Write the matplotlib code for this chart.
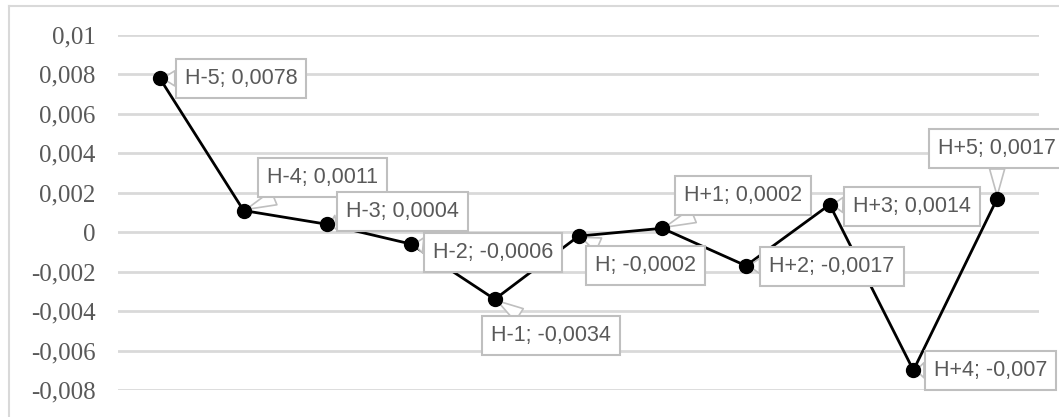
import matplotlib.pyplot as plt
from matplotlib.lines import Line2D
from matplotlib.ticker import FuncFormatter

# data
categories = ["H-5", "H-4", "H-3", "H-2", "H-1", "H", "H+1", "H+2", "H+3", "H+4", "H+5"]
values     = [0.0078, 0.0011, 0.0004, -0.0006, -0.0034, -0.0002, 0.0002, -0.0017, 0.0014, -0.007, 0.0017]
value_text = ["0,0078", "0,0011", "0,0004", "-0,0006", "-0,0034", "-0,0002", "0,0002", "-0,0017", "0,0014", "-0,007", "0,0017"]
y_ticks    = [-0.008, -0.006, -0.004, -0.002, 0.0, 0.002, 0.004, 0.006, 0.008, 0.01]

# callout offsets (pixels, box centre relative to point)
label_offsets = [(81, 0), (79, 33), (75, 13), (82, -8), (56, -36), (67, -29),
                 (81, 33), (86, -1), (82, -2), (77, 0), (0, 50)]

W, H = 1059, 417
fig = plt.figure(figsize=(W / 100, H / 100), dpi=100)
fig.patch.set_facecolor("white")

# outer chart border (partly cropped on right/bottom)
border = "#D9D9D9"
fig.add_artist(Line2D([9 / W, 9 / W], [0, 1 - 6 / H], color=border, lw=1.5))
fig.add_artist(Line2D([9 / W, 1], [1 - 6 / H, 1 - 6 / H], color=border, lw=1.5))

left, right = 118 / W, 1039 / W
top, bottom = 1 - 35 / H, 1 - 390 / H
ax = fig.add_axes([left, bottom, right - left, top - bottom])

x = list(range(len(categories)))
ax.plot(x, values, color="black", lw=2, zorder=2)
ax.plot(x, values, ls="none", marker="o", markersize=10, color="black", zorder=4)

ax.set_xlim(-0.5, len(categories) - 0.5)
ax.set_ylim(-0.008, 0.01)
ax.set_yticks(y_ticks)


def fmt(v, pos):
    s = f"{round(v, 6):g}"
    if s == "-0":
        s = "0"
    return s.replace(".", ",")


ax.yaxis.set_major_formatter(FuncFormatter(fmt))
ax.set_xticks([])
ax.tick_params(axis="y", length=0, pad=16, labelsize=18, labelcolor="#595959")
for lab in ax.get_yticklabels():
    lab.set_family("Liberation Serif")

ax.grid(axis="y", color="#D9D9D9", lw=2)
ax.set_axisbelow(True)
for sp in ax.spines.values():
    sp.set_visible(False)

for xi, v, cat, vt, (dx, dy) in zip(x, values, categories, value_text, label_offsets):
    ax.annotate(
        f"{cat}; {vt}",
        xy=(xi, v), xycoords="data",
        xytext=(dx * 0.72, dy * 0.72), textcoords="offset points",
        ha="center", va="center",
        fontsize=15.5, color="#595959", family="Liberation Sans",
        bbox=dict(boxstyle="square,pad=0.42", fc="white", ec="#BFBFBF", lw=1.5),
        arrowprops=dict(arrowstyle="wedge,tail_width=0.7,shrink_factor=0.5",
                        fc="white", ec="#BFBFBF", lw=1.2, shrinkA=0, shrinkB=2),
        annotation_clip=False, zorder=3,
    )

fig.savefig("out.png", dpi=100)
